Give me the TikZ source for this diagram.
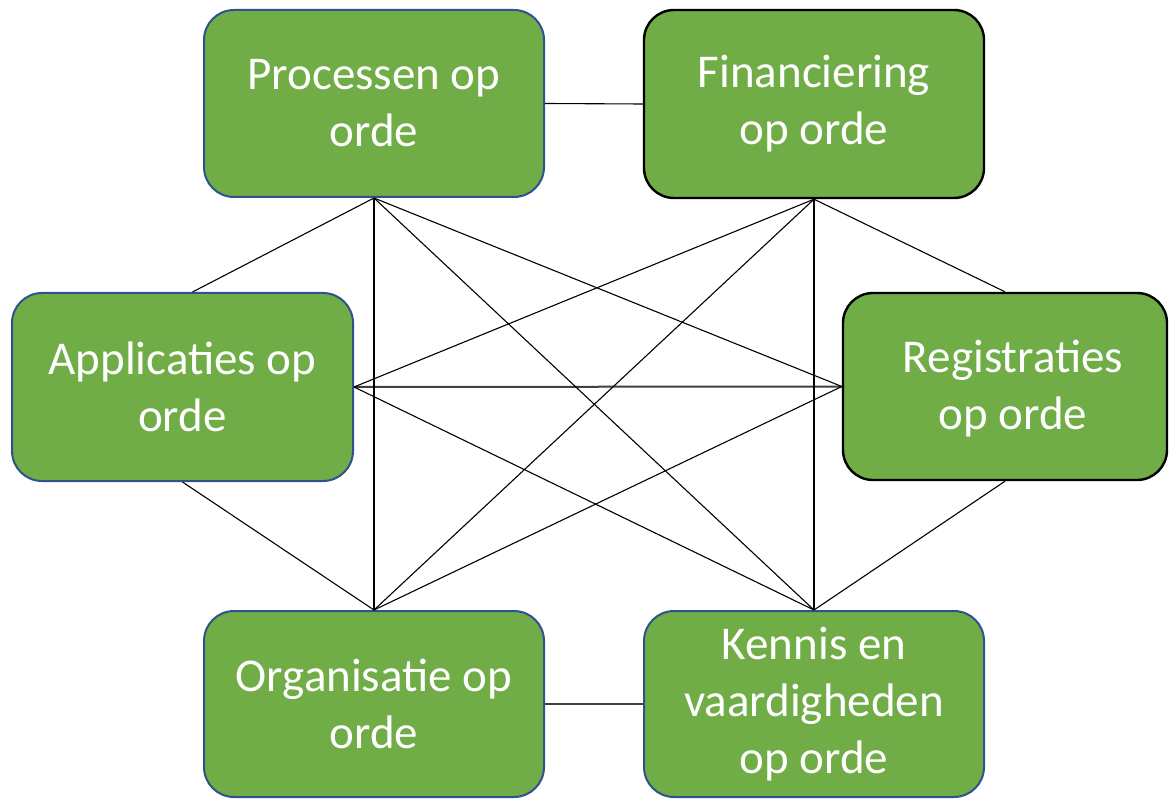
\documentclass[tikz,border=0pt]{standalone}
\usepackage{fontspec}
\setmainfont{Carlito}
\definecolor{boxgreen}{HTML}{70AD47}
\definecolor{boxblue}{HTML}{2F528F}
\definecolor{linegray}{HTML}{404040}
\begin{document}
\begin{tikzpicture}[x=1pt,y=-1pt,
  box/.style={draw=boxblue, line width=2pt, fill=boxgreen, rounded corners=30pt,
    text=white, align=center, inner sep=0pt,
    font=\fontsize{47}{57}\selectfont},
  darkbox/.style={box, draw=black, line width=2.4pt},
  label/.style={text=white, align=center, inner sep=0pt, font=\fontsize{47}{57}\selectfont},
  link/.style={draw=black, line width=1.1pt},
  heavylink/.style={draw=linegray, line width=2pt}]
\useasboundingbox (0,0) rectangle (1169,799);
\node[box, minimum width=340pt, minimum height=187pt] (P) at (374,103.5) {Processen op\\orde};
\node[darkbox, minimum width=340pt, minimum height=188pt] (F) at (814,104) {Financiering\\op orde};
\node[box, minimum width=341pt, minimum height=188pt] (A) at (182.5,387) {Applicaties op\\orde};
\node[darkbox, minimum width=324pt, minimum height=187pt] (R) at (1005,386.5) {};
\node[label] (Rtext) at (1013,389) {Registraties\\op orde};
\node[box, minimum width=340pt, minimum height=186pt] (O) at (374,704) {Organisatie op\\orde};
\node[box, minimum width=340pt, minimum height=186pt] (K) at (814,704) {Kennis en\\vaardigheden\\op orde};
% connectors
\draw[link] (P.east) -- (F.west);
\draw[heavylink, line width=1.5pt] (O.east) -- (K.west);
\draw[heavylink] (A.east) -- (R.west);
\draw[link] (P.south) -- ([xshift=10pt]A.north);
\draw[link] (P.south) -- (O.north);
\draw[link] (P.south) -- (K.north);
\draw[link] (P.south) -- (R.west);
\draw[link] (F.south) -- (A.east);
\draw[link] (F.south) -- (O.north);
\draw[link] (F.south) -- (K.north);
\draw[link] (F.south) -- (R.north);
\draw[link] (A.east) -- (K.north);
\draw[link] (A.south) -- (O.north);
\draw[link] (R.west) -- (O.north);
\draw[link] (R.south) -- (K.north);
\end{tikzpicture}
\end{document}
